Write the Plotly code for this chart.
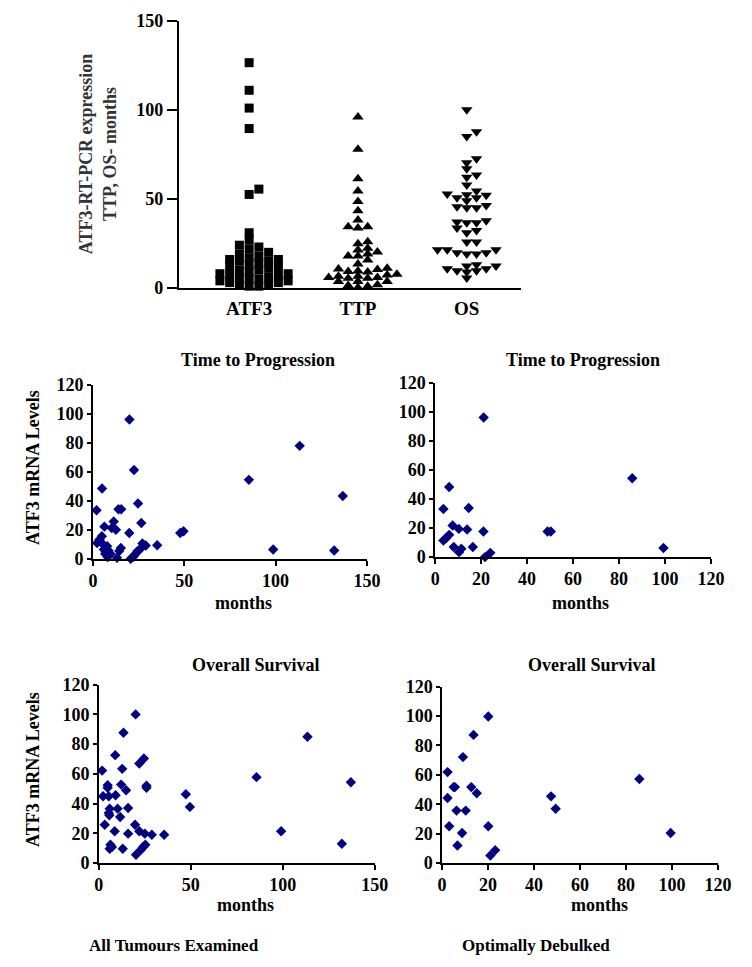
import plotly.graph_objects as go

# ---------------- data ----------------
categories = ["ATF3", "TTP", "OS"]

atf3_levels = [126.5, 111, 101, 89.5, 55.5, 52.5, 31, 27, 24, 23, 22, 20, 19, 18, 17, 16, 16,
               15, 15, 14, 13, 12, 12, 11, 10, 10, 9, 8, 8, 7, 7, 6, 6, 5, 5, 4, 4, 3, 3,
               2, 2, 1, 1]

# Time to progression, all tumours (x = months axis, y = ATF3 mRNA levels axis)
ttp_all_x = [20, 22.5, 5, 2, 14, 15.5, 24.7, 26.5, 11.4, 10.3, 12.6, 6.3, 19.9, 4.9, 3.6,
             2.3, 47.8, 49.6, 35.2, 28.9, 27.1, 26.2, 24.4, 23.4, 22.2, 20.7, 15.3, 14.4,
             13.2, 5.4, 7.8, 6.0, 8.5, 6.7, 9.6, 8.1, 85.4, 113.2, 136.8, 98.7, 132.1]
ttp_all_y = [96, 61.3, 48.6, 33.6, 34.3, 34.3, 38.2, 24.8, 25.9, 21.3, 20.2, 22.3, 17.9, 15.7,
             13.4, 11.1, 17.9, 19.1, 9.5, 9.3, 10.7, 7.3, 5.5, 3.6, 1.8, 0.2, 7.7, 5.5, 0.9,
             10.4, 8.9, 6.6, 5.9, 3.6, 3.6, 1.4, 54.5, 77.9, 43.4, 6.6, 5.9]

# Overall survival, all tumours
os_all_x = [20.0, 13.4, 8.9, 24.5, 22.0, 12.7, 1.8, 4.8, 4.8, 12.1, 14.8, 25.9, 25.9, 2.3,
            5.4, 9.1, 5.9, 5.4, 5.7, 10.2, 15.9, 11.6, 3.2, 19.7, 8.6, 15.9, 22.0, 25.0,
            28.8, 35.5, 6.3, 7.1, 5.9, 13.0, 25.3, 24.1, 22.9, 20.2, 47.3, 49.5, 85.7,
            113.4, 137.0, 99.1, 132.1]
os_all_y = [100.0, 87.7, 72.6, 70.3, 67.0, 63.4, 62.2, 52.4, 50.6, 52.8, 49.0, 52.0, 50.6,
            45.0, 45.0, 45.6, 36.6, 33.7, 32.2, 36.6, 37.1, 31.0, 25.8, 25.8, 21.4, 19.8,
            21.4, 19.8, 19.1, 19.1, 12.3, 10.8, 9.6, 9.6, 12.3, 10.8, 9.0, 5.6, 46.3, 37.8,
            57.8, 85.0, 54.4, 21.4, 13.0]

# Time to progression, optimally debulked
ttp_deb_x = [21.1, 6.1, 3.6, 14.6, 7.6, 10.3, 13.9, 21.0, 6.1, 4.7, 3.6, 8.1, 11.4, 10.4,
             16.4, 24.0, 21.7, 48.9, 50.3, 85.7, 99.3]
ttp_deb_y = [96, 48.2, 33.1, 33.8, 21.7, 19.4, 19.0, 17.6, 15.3, 13.0, 11.4, 6.9, 5.7, 3.4,
             6.9, 2.9, 0.0, 17.6, 17.6, 54.2, 6.2]

# Overall survival, optimally debulked
os_deb_x = [20.1, 13.7, 9.1, 2.4, 5.0, 5.6, 12.7, 15.1, 2.4, 6.3, 10.3, 3.1, 20.1, 8.7, 6.7,
            23.1, 21.0, 47.4, 49.4, 85.8, 99.4]
os_deb_y = [99.7, 87.2, 72.1, 61.9, 51.7, 51.7, 51.7, 47.5, 44.3, 35.7, 35.7, 25.1, 25.1,
            20.5, 12.0, 8.8, 5.2, 45.4, 37.0, 57.2, 20.5]

top_values = [atf3_levels, ttp_all_y, os_all_y]

# ---------------- layout helpers ----------------
PAGE_MARGIN = 8            # default browser body margin around the plot div
W, H = 752 - PAGE_MARGIN, 967 - PAGE_MARGIN


def tx(x):
    return 90 + (x - 90) * 1.015


def ty(y):
    return 357 + (y - 357) * 1.018


def fx(px):
    return (tx(px) - PAGE_MARGIN) / W


def fy(py):
    return 1 - (ty(py) - PAGE_MARGIN) / H


SERIF = "Liberation Serif"
NAVY = "#000080"

# top dot plot box (reference pixels)
TOP = dict(l=177, r=523, t=17, b=285)
top_xrange = [-0.645, 2.5]
top_yrange = [0, 150]
px_per_xunit = (tx(TOP["r"]) - tx(TOP["l"])) / (top_xrange[1] - top_xrange[0])
px_per_yunit = (ty(TOP["b"]) - ty(TOP["t"])) / (top_yrange[1] - top_yrange[0])


def swarm(values, w_px=10.0, h_px=6.5):
    """Deterministic column-dodge layout (GraphPad-like) computed from values."""
    w_u = w_px / px_per_xunit
    h_u = h_px / px_per_yunit
    order = sorted(range(len(values)), key=lambda i: values[i])
    placed = []
    offs = [0.0] * len(values)
    cands = [0]
    for j in range(1, 30):
        cands += [j, -j]
    for i in order:
        v = values[i]
        for c in cands:
            if all(not (c == pc and abs(v - pv) < h_u) for pc, pv in placed):
                break
        placed.append((c, v))
        offs[i] = c * w_u
    return offs


fig = go.Figure()

symbols = ["square", "triangle-up", "triangle-down"]
sizes = [9, 10, 10]
swarm_h = [6.5, 5.0, 6.0]
for k, (cat, vals) in enumerate(zip(categories, top_values)):
    offs = swarm(vals, h_px=swarm_h[k])
    fig.add_trace(go.Scatter(
        x=[k + o for o in offs], y=vals, mode="markers",
        marker=dict(symbol=symbols[k], size=sizes[k], color="black", line=dict(width=0)),
        xaxis="x", yaxis="y", cliponaxis=False, showlegend=False, name=cat))

scatter_sets = [
    (ttp_all_x, ttp_all_y, "x2", "y2"),
    (ttp_deb_x, ttp_deb_y, "x3", "y3"),
    (os_all_x, os_all_y, "x4", "y4"),
    (os_deb_x, os_deb_y, "x5", "y5"),
]
for xs, ys, xa, ya in scatter_sets:
    fig.add_trace(go.Scatter(
        x=xs, y=ys, mode="markers",
        marker=dict(symbol="diamond", size=8, color=NAVY, line=dict(width=0)),
        xaxis=xa, yaxis=ya, cliponaxis=False, showlegend=False))

tickfont_topx = dict(family=SERIF, size=19, color="black", weight="bold")
tickfont_topy = dict(family=SERIF, size=18, color="black", weight="bold")
tickfont_sc = dict(family=SERIF, size=18, color="black", weight="bold")

common = dict(showline=True, linecolor="black", showgrid=False, zeroline=False,
              ticks="outside", tickcolor="black", fixedrange=True)

layout = dict(
    width=W, height=H, margin=dict(l=0, r=0, t=0, b=0),
    paper_bgcolor="white", plot_bgcolor="white", showlegend=False,
)

layout["xaxis"] = dict(common, domain=[fx(TOP["l"]), fx(TOP["r"])], range=top_xrange,
                       tickvals=[0, 1, 2], ticktext=categories, ticklen=2,
                       tickcolor="rgba(0,0,0,0)", linewidth=2, tickfont=tickfont_topx,
                       anchor="y")
layout["yaxis"] = dict(common, domain=[fy(TOP["b"]), fy(TOP["t"])], range=top_yrange,
                       tickvals=[0, 50, 100, 150], ticklen=10, tickwidth=2, linewidth=2,
                       tickfont=tickfont_topy, anchor="x")

panels = [
    # (l, r, t, b, xmax, xdtick) in reference pixels
    (90, 367, 382, 557, 150, 50),
    (436, 715, 380, 555, 120, 20),
    (96, 375, 683, 862, 150, 50),
    (443, 722, 685, 862, 120, 20),
]
for n, (l, r, t, b, xmax, xd) in enumerate(panels, start=2):
    layout[f"xaxis{n}"] = dict(common, domain=[fx(l), fx(r)], range=[0, xmax], dtick=xd,
                               tick0=0, ticklen=5, tickwidth=1.5, linewidth=1.5,
                               tickfont=tickfont_sc, anchor=f"y{n}")
    layout[f"yaxis{n}"] = dict(common, domain=[fy(b), fy(t)], range=[0, 120], dtick=20,
                               tick0=0, ticklen=4, tickwidth=1.5, linewidth=1.5,
                               tickfont=tickfont_sc, anchor=f"x{n}")

fig.update_layout(**layout)


def ann(text, px, py, size=18, angle=0, color="black", bold=True):
    fig.add_annotation(
        text=text, x=fx(px), y=fy(py), xref="paper", yref="paper",
        xanchor="center", yanchor="middle", showarrow=False, textangle=angle,
        font=dict(family=SERIF, size=size, color=color,
                  weight="bold" if bold else "normal"))


ann("ATF3-RT-PCR expression<br>TTP, OS- months", 95, 150, size=18, angle=-90, color="#333")
ann("Time to Progression", 257, 357, size=18)
ann("Time to Progression", 585, 357, size=18)
ann("Overall Survival", 255, 663, size=18)
ann("Overall Survival", 595, 663, size=18)
ann("months", 242, 601, size=18)
ann("months", 583, 601, size=18)
ann("months", 244, 904, size=18)
ann("months", 602, 904, size=18)
ann("ATF3 mRNA Levels", 30, 465, size=18, angle=-90)
ann("ATF3 mRNA Levels", 30, 768, size=18, angle=-90)
ann("All Tumours Examined", 172, 945, size=17)
ann("Optimally Debulked", 538, 945, size=17)

fig.write_html("out.html")
